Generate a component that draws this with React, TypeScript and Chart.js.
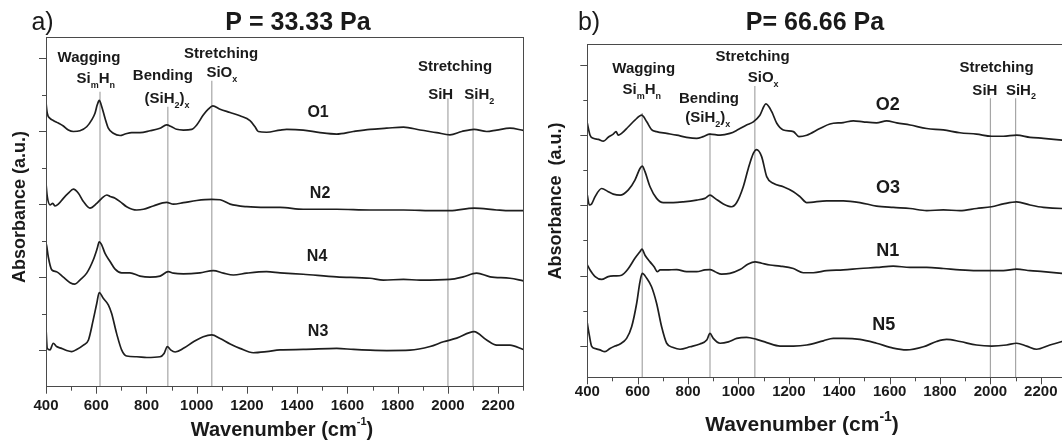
import React, { useEffect, useRef } from "react";
import { Chart, registerables } from "chart.js";

Chart.register(...registerables);

const FONT = '"Liberation Sans", Arial, Helvetica, sans-serif';

// ---------------- Panel a) P = 33.33 Pa ----------------
const A_O1_WN = [400, 405, 416, 429, 449, 469, 489, 509, 535, 562, 582, 595, 604, 612, 622, 635, 648, 668, 695, 715, 741, 774, 814, 854, 880, 900, 920, 947, 980, 1000, 1026, 1046, 1064, 1093, 1133, 1172, 1212, 1232, 1245, 1278, 1332, 1358, 1424, 1491, 1557, 1623, 1690, 1756, 1823, 1889, 1955, 2008, 2055, 2104, 2154, 2194, 2247, 2300];
const A_O1_ABS = [7.78, 7.49, 7.35, 7.29, 7.22, 7.14, 7.03, 6.99, 7.01, 7.12, 7.31, 7.49, 7.72, 7.84, 7.67, 7.35, 7.08, 6.94, 6.88, 6.92, 6.96, 6.96, 7.01, 7.08, 7.17, 7.12, 7.05, 7.03, 7.05, 7.17, 7.44, 7.6, 7.69, 7.6, 7.51, 7.42, 7.29, 7.12, 6.99, 6.97, 7.03, 7.05, 7.03, 6.96, 6.92, 6.99, 7.05, 7.08, 7.11, 7.03, 6.96, 6.9, 6.99, 7.05, 6.99, 7.03, 7.08, 7.02];

const A_N2_WN = [400, 405, 416, 427, 436, 449, 469, 489, 509, 529, 549, 575, 602, 622, 642, 655, 675, 695, 721, 761, 788, 827, 880, 907, 947, 1000, 1060, 1093, 1133, 1199, 1278, 1332, 1424, 1557, 1690, 1823, 1955, 2008, 2104, 2194, 2247, 2300];
const A_N2_ABS = [5.57, 5.21, 4.98, 5.02, 4.95, 5.0, 5.16, 5.3, 5.41, 5.3, 5.07, 4.89, 5.02, 5.16, 5.25, 5.21, 5.16, 5.07, 4.93, 4.84, 4.86, 4.95, 5.05, 5.0, 5.04, 5.1, 5.13, 5.12, 5.0, 4.93, 4.91, 4.91, 4.86, 4.86, 4.84, 4.84, 4.82, 4.82, 4.89, 4.84, 4.82, 4.82];

const A_N4_WN = [400, 403, 409, 423, 442, 469, 496, 515, 535, 562, 588, 604, 612, 622, 635, 655, 675, 701, 734, 774, 814, 854, 887, 907, 947, 1013, 1066, 1106, 1146, 1199, 1278, 1332, 1424, 1557, 1690, 1743, 1823, 1889, 2008, 2061, 2114, 2168, 2247, 2300];
const A_N4_ABS = [3.93, 3.84, 3.56, 3.2, 3.15, 3.0, 2.85, 2.81, 2.92, 3.11, 3.47, 3.79, 3.97, 3.88, 3.65, 3.43, 3.22, 3.12, 3.12, 3.03, 3.0, 3.03, 3.15, 3.11, 3.09, 3.12, 3.18, 3.11, 3.06, 3.11, 3.15, 3.12, 3.08, 3.01, 2.97, 2.92, 2.94, 2.92, 2.94, 3.01, 3.11, 3.01, 2.97, 2.9];

const A_N3_WN = [400, 405, 416, 429, 442, 462, 482, 502, 522, 549, 569, 588, 602, 612, 628, 648, 661, 681, 701, 721, 761, 801, 854, 870, 883, 896, 914, 947, 987, 1026, 1060, 1093, 1133, 1172, 1225, 1278, 1332, 1424, 1557, 1624, 1690, 1757, 1849, 1929, 1982, 2035, 2104, 2154, 2194, 2247, 2300];
const A_N3_ABS = [1.6, 1.05, 1.01, 1.19, 1.1, 1.05, 0.99, 0.96, 1.02, 1.14, 1.28, 1.83, 2.28, 2.58, 2.42, 2.24, 2.01, 1.46, 1.01, 0.84, 0.82, 0.8, 0.82, 0.91, 1.1, 1.01, 0.95, 1.05, 1.23, 1.37, 1.42, 1.32, 1.17, 1.05, 0.93, 0.96, 1.01, 1.02, 1.05, 1.02, 1.0, 0.99, 1.0, 1.1, 1.23, 1.33, 1.51, 1.28, 1.14, 1.14, 1.02];

const A_REF_WN = [615, 885, 1060, 2000, 2100];
const A_REF_TOP = [8.08, 7.67, 8.38, 7.9, 7.9];

// ---------------- Panel b) P = 66.66 Pa ----------------
const B_O2_WN = [400, 411, 424, 444, 464, 483, 503, 514, 523, 536, 563, 589, 616, 636, 655, 675, 715, 755, 794, 834, 860, 887, 927, 966, 999, 1032, 1059, 1085, 1109, 1132, 1152, 1178, 1218, 1240, 1271, 1323, 1363, 1416, 1456, 1495, 1548, 1588, 1628, 1681, 1747, 1813, 1879, 1945, 2005, 2051, 2104, 2157, 2210, 2284, 2300];
const B_O2_ABS = [7.34, 7.0, 6.91, 6.88, 6.83, 6.94, 7.03, 7.1, 7.0, 7.05, 7.24, 7.43, 7.57, 7.38, 7.16, 7.1, 7.05, 7.0, 6.94, 6.91, 6.96, 7.03, 7.0, 7.05, 7.16, 7.29, 7.38, 7.57, 7.89, 7.67, 7.34, 7.15, 7.1, 6.96, 7.0, 7.19, 7.32, 7.36, 7.41, 7.38, 7.35, 7.41, 7.35, 7.29, 7.19, 7.15, 7.07, 7.03, 6.97, 6.97, 7.0, 6.94, 6.91, 6.86, 6.85];

const B_O3_WN = [400, 408, 417, 431, 457, 483, 503, 530, 563, 589, 609, 618, 629, 649, 675, 702, 741, 781, 834, 867, 887, 907, 940, 973, 993, 1019, 1039, 1059, 1072, 1092, 1112, 1138, 1178, 1218, 1244, 1271, 1350, 1416, 1482, 1548, 1614, 1681, 1747, 1813, 1879, 1945, 2005, 2051, 2104, 2157, 2210, 2284, 2300];
const B_O3_ABS = [5.29, 5.01, 5.04, 5.25, 5.48, 5.39, 5.32, 5.29, 5.44, 5.72, 6.05, 6.12, 5.96, 5.53, 5.2, 5.08, 5.08, 5.1, 5.15, 5.2, 5.29, 5.2, 5.04, 4.96, 5.08, 5.53, 6.05, 6.48, 6.59, 6.39, 5.82, 5.63, 5.53, 5.39, 5.25, 5.08, 5.13, 5.13, 5.08, 4.98, 4.94, 4.91, 4.85, 4.87, 4.85, 4.91, 4.96, 5.04, 5.1, 5.01, 4.94, 4.91, 4.91];

const B_N1_WN = [400, 411, 431, 457, 483, 510, 536, 563, 589, 609, 617, 629, 649, 665, 678, 689, 715, 755, 794, 834, 867, 887, 907, 933, 966, 1006, 1039, 1066, 1092, 1125, 1165, 1218, 1257, 1297, 1350, 1416, 1482, 1548, 1614, 1681, 1747, 1813, 1879, 1945, 2005, 2051, 2104, 2157, 2210, 2284, 2300];
const B_N1_ABS = [3.3, 3.16, 2.97, 2.89, 2.97, 2.99, 3.01, 3.2, 3.49, 3.68, 3.75, 3.58, 3.39, 3.25, 3.11, 3.16, 3.16, 3.17, 3.11, 3.11, 3.16, 3.17, 3.11, 3.04, 3.06, 3.17, 3.33, 3.39, 3.35, 3.3, 3.27, 3.2, 3.08, 3.08, 3.14, 3.16, 3.2, 3.23, 3.27, 3.23, 3.23, 3.2, 3.16, 3.14, 3.14, 3.14, 3.18, 3.14, 3.11, 3.06, 3.05];

const B_N5_WN = [400, 408, 417, 431, 450, 470, 490, 510, 530, 556, 576, 596, 609, 618, 636, 655, 675, 695, 715, 741, 768, 808, 847, 874, 887, 900, 927, 960, 993, 1032, 1072, 1112, 1165, 1218, 1271, 1337, 1376, 1416, 1482, 1548, 1614, 1667, 1734, 1786, 1826, 1879, 1945, 2005, 2064, 2104, 2144, 2183, 2236, 2284, 2300];
const B_N5_ABS = [1.64, 1.3, 0.99, 0.92, 0.88, 0.83, 0.92, 0.99, 1.05, 1.21, 1.54, 2.21, 2.82, 3.06, 2.92, 2.68, 2.21, 1.54, 1.07, 0.95, 0.9, 0.97, 1.05, 1.16, 1.35, 1.21, 1.07, 1.11, 1.21, 1.24, 1.18, 1.09, 0.99, 0.99, 1.02, 1.14, 1.21, 1.21, 1.18, 1.07, 0.93, 0.88, 0.97, 1.12, 1.18, 1.12, 1.02, 0.99, 1.02, 1.07, 0.99, 0.9, 1.02, 1.12, 1.15];

const B_REF_WN = [618, 887, 1065, 2000, 2100];
const B_REF_TOP = [7.63, 7.06, 8.4, 8.05, 8.05];

const X_MIN = 400;
const X_MAX = 2300;
const X_LABEL_STEP = 200;
const X_MINOR_STEP = 100;
const Y_TICKS = [1, 2, 3, 4, 5, 6, 7, 8, 9];

type Part = { t: string; sub?: boolean; sup?: boolean };
type Ann = { parts: Part[]; x: number; y: number; size: number };

const P = (t: string): Part => ({ t });
const SUB = (t: string): Part => ({ t, sub: true });
const SUP = (t: string): Part => ({ t, sup: true });

function drawRich(ctx: CanvasRenderingContext2D, parts: Part[], cx: number, cy: number, size: number, weight = "bold", smallScale = 0.62) {
  const main = `${weight} ${size}px ${FONT}`;
  const small = `${weight} ${Math.round(size * smallScale)}px ${FONT}`;
  let total = 0;
  const widths = parts.map((p) => {
    ctx.font = p.sub || p.sup ? small : main;
    const w = ctx.measureText(p.t).width;
    total += w;
    return w;
  });
  let x = cx - total / 2;
  ctx.textAlign = "left";
  ctx.textBaseline = "middle";
  parts.forEach((p, i) => {
    ctx.font = p.sub || p.sup ? small : main;
    const dy = p.sub ? size * 0.42 : p.sup ? -size * 0.38 : 0;
    ctx.fillText(p.t, x, cy + dy);
    x += widths[i];
  });
}

interface PanelSpec {
  width: number;
  curves: { wn: number[]; abs: number[] }[];
  refWn: number[];
  refTop: number[];
  yMin: number;
  yMax: number;
  pad: { left: number; right: number; top: number; bottom: number };
  tickPad: number;
  annotations: Ann[];
  letter: string;
  letterPos: [number, number];
  title: string;
  titlePos: [number, number];
  yTitlePos: [number, number];
  yTitleSize: number;
  yTitle: string;
  xTitlePos: [number, number];
  xTitleSize: number;
  supScale: number;
}

const PANEL_A: PanelSpec = {
  width: 540,
  curves: [
    { wn: A_O1_WN, abs: A_O1_ABS },
    { wn: A_N2_WN, abs: A_N2_ABS },
    { wn: A_N4_WN, abs: A_N4_ABS },
    { wn: A_N3_WN, abs: A_N3_ABS },
  ],
  refWn: A_REF_WN,
  refTop: A_REF_TOP,
  yMin: 0,
  yMax: 9.57,
  pad: { left: 46, right: 16.7, top: 37.3, bottom: 15.3 },
  tickPad: 10,
  annotations: [
    { parts: [P("Wagging")], x: 571, y: 9.0, size: 15 },
    { parts: [P("Si"), SUB("m"), P("H"), SUB("n")], x: 598, y: 8.43, size: 15 },
    { parts: [P("Bending")], x: 865, y: 8.51, size: 15 },
    { parts: [P("(SiH"), SUB("2"), P(")"), SUB("x")], x: 882, y: 7.88, size: 15 },
    { parts: [P("Stretching")], x: 1097, y: 9.13, size: 15 },
    { parts: [P("SiO"), SUB("x")], x: 1100, y: 8.59, size: 15 },
    { parts: [P("Stretching")], x: 2028, y: 8.77, size: 15 },
    { parts: [P("SiH")], x: 1971, y: 7.99, size: 15 },
    { parts: [P("SiH"), SUB("2")], x: 2125, y: 7.99, size: 15 },
    { parts: [P("O1")], x: 1483, y: 7.52, size: 16 },
    { parts: [P("N2")], x: 1491, y: 5.3, size: 16 },
    { parts: [P("N4")], x: 1479, y: 3.55, size: 16 },
    { parts: [P("N3")], x: 1483, y: 1.5, size: 16 },
  ],
  letter: "a)",
  letterPos: [42.5, 23],
  title: "P = 33.33 Pa",
  titlePos: [298, 23],
  yTitlePos: [20, 207],
  yTitleSize: 18,
  yTitle: "Absorbance (a.u.)",
  xTitlePos: [282, 430],
  xTitleSize: 20,
  supScale: 0.55,
};

const PANEL_B: PanelSpec = {
  width: 560,
  curves: [
    { wn: B_O2_WN, abs: B_O2_ABS },
    { wn: B_O3_WN, abs: B_O3_ABS },
    { wn: B_N1_WN, abs: B_N1_ABS },
    { wn: B_N5_WN, abs: B_N5_ABS },
  ],
  refWn: B_REF_WN,
  refTop: B_REF_TOP,
  yMin: 0.1,
  yMax: 9.59,
  pad: { left: 57.3, right: 24, top: 44.3, bottom: 32.7 },
  tickPad: 6,
  annotations: [
    { parts: [P("Wagging")], x: 624, y: 8.9, size: 15 },
    { parts: [P("Si"), SUB("m"), P("H"), SUB("n")], x: 616, y: 8.28, size: 15 },
    { parts: [P("Stretching")], x: 1056, y: 9.22, size: 15 },
    { parts: [P("SiO"), SUB("x")], x: 1098, y: 8.63, size: 15 },
    { parts: [P("Bending")], x: 883, y: 8.04, size: 15 },
    { parts: [P("(SiH"), SUB("2"), P(")"), SUB("x")], x: 878, y: 7.48, size: 15 },
    { parts: [P("Stretching")], x: 2024, y: 8.91, size: 15 },
    { parts: [P("SiH")], x: 1978, y: 8.27, size: 15 },
    { parts: [P("SiH"), SUB("2")], x: 2121, y: 8.27, size: 15 },
    { parts: [P("O2")], x: 1593, y: 7.86, size: 18 },
    { parts: [P("O3")], x: 1594, y: 5.48, size: 18 },
    { parts: [P("N1")], x: 1593, y: 3.71, size: 18 },
    { parts: [P("N5")], x: 1577, y: 1.59, size: 18 },
  ],
  letter: "b)",
  letterPos: [59, 23],
  title: "P= 66.66 Pa",
  titlePos: [285, 23],
  yTitlePos: [26, 201],
  yTitleSize: 18,
  yTitle: "Absorbance  (a.u.)",
  xTitlePos: [272, 425],
  xTitleSize: 21,
  supScale: 0.65,
};

function makeDecor(spec: PanelSpec) {
  return {
    id: "panelDecor",
    afterDraw(chart: any) {
      const ctx: CanvasRenderingContext2D = chart.ctx;
      const ca = chart.chartArea;
      const xs = chart.scales.x;
      const ys = chart.scales.y;
      ctx.save();
      // frame
      ctx.strokeStyle = "#4a4a4a";
      ctx.lineWidth = 1;
      ctx.strokeRect(Math.round(ca.left) + 0.5, Math.round(ca.top) + 0.5, Math.round(ca.right - ca.left), Math.round(ca.bottom - ca.top));
      // x ticks
      ctx.beginPath();
      for (let v = X_MIN; v <= X_MAX; v += X_MINOR_STEP) {
        const px = Math.round(xs.getPixelForValue(v)) + 0.5;
        const len = (v - X_MIN) % X_LABEL_STEP === 0 ? 7 : 4;
        ctx.moveTo(px, ca.bottom);
        ctx.lineTo(px, ca.bottom + len);
      }
      // y ticks
      for (const k of Y_TICKS) {
        const py = Math.round(ys.getPixelForValue(k)) + 0.5;
        const len = k % 2 === 1 ? 7 : 4;
        ctx.moveTo(ca.left - len, py);
        ctx.lineTo(ca.left, py);
      }
      ctx.stroke();
      // annotations
      ctx.fillStyle = "#1a1a1a";
      for (const a of spec.annotations) {
        drawRich(ctx, a.parts, xs.getPixelForValue(a.x), ys.getPixelForValue(a.y), a.size);
      }
      // panel letter + title
      drawRich(ctx, [P(spec.letter)], spec.letterPos[0], spec.letterPos[1], 25, "normal");
      drawRich(ctx, [P(spec.title)], spec.titlePos[0], spec.titlePos[1], 25, "bold");
      // x title
      drawRich(ctx, [P("Wavenumber (cm"), SUP("-1"), P(")")], spec.xTitlePos[0], spec.xTitlePos[1], spec.xTitleSize, "bold", spec.supScale);
      // y title
      ctx.save();
      ctx.translate(spec.yTitlePos[0], spec.yTitlePos[1]);
      ctx.rotate(-Math.PI / 2);
      drawRich(ctx, [P(spec.yTitle)], 0, 0, spec.yTitleSize, "bold");
      ctx.restore();
      ctx.restore();
    },
  };
}

function buildConfig(spec: PanelSpec): any {
  const curveSets = spec.curves.map((c) => ({
    data: c.wn.map((x, i) => ({ x, y: c.abs[i] })),
    borderColor: "#1e1e1e",
    borderWidth: 1.7,
    pointRadius: 0,
    tension: 0.4,
    cubicInterpolationMode: "monotone",
    fill: false,
  }));
  const refSets = spec.refWn.map((x, i) => ({
    data: [
      { x, y: spec.yMin },
      { x, y: spec.refTop[i] },
    ],
    borderColor: "#a6a6a6",
    borderWidth: 1.2,
    pointRadius: 0,
    tension: 0,
    fill: false,
  }));
  return {
    type: "line",
    data: { datasets: [...curveSets, ...refSets] },
    options: {
      responsive: false,
      maintainAspectRatio: false,
      animation: false,
      events: [],
      layout: { padding: spec.pad },
      plugins: {
        legend: { display: false },
        tooltip: { enabled: false },
        title: { display: false },
      },
      scales: {
        x: {
          type: "linear",
          min: X_MIN,
          max: X_MAX,
          border: { display: false },
          grid: { display: false, drawTicks: false },
          ticks: {
            stepSize: X_LABEL_STEP,
            includeBounds: false,
            autoSkip: false,
            maxRotation: 0,
            minRotation: 0,
            padding: spec.tickPad,
            color: "#1a1a1a",
            font: { family: FONT, size: 15, weight: "bold" },
            callback: (v: number) => String(v),
          },
        },
        y: {
          type: "linear",
          display: false,
          min: spec.yMin,
          max: spec.yMax,
        },
      },
    },
    plugins: [makeDecor(spec)],
  };
}

function Panel({ spec, left }: { spec: PanelSpec; left: number }) {
  const ref = useRef<HTMLCanvasElement>(null);
  useEffect(() => {
    if (!ref.current) return;
    const chart = new Chart(ref.current, buildConfig(spec));
    return () => chart.destroy();
  }, [spec]);
  return (
    <canvas
      ref={ref}
      width={spec.width}
      height={440}
      style={{ position: "absolute", left, top: 0, width: spec.width, height: 440 }}
    />
  );
}

export default function App() {
  return (
    <div
      style={{
        position: "absolute",
        left: 0,
        top: 0,
        width: 1062,
        height: 440,
        overflow: "hidden",
        background: "#ffffff",
      }}
    >
      <Panel spec={PANEL_A} left={0} />
      <Panel spec={PANEL_B} left={530} />
    </div>
  );
}
